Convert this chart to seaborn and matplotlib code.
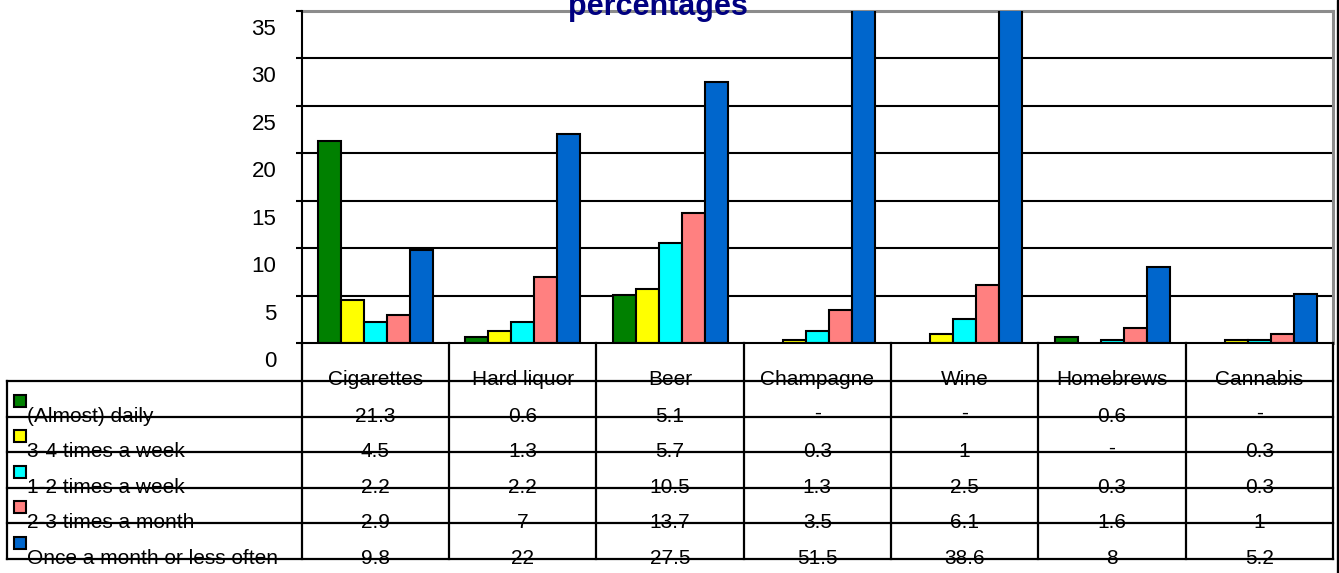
import numpy as np
import pandas as pd
import matplotlib
matplotlib.use("Agg")
import matplotlib.pyplot as plt
import matplotlib.transforms as mtransforms
from matplotlib.lines import Line2D
from matplotlib.patches import Rectangle
import seaborn as sns

categories = ["Cigarettes", "Hard liquor", "Beer", "Champagne", "Wine", "Homebrews", "Cannabis"]
frequencies = ["(Almost) daily", "3-4 times a week", "1-2 times a week",
               "2-3 times a month", "Once a month or less often"]
daily = [21.3, 0.6, 5.1, None, None, 0.6, None]
three_four_week = [4.5, 1.3, 5.7, 0.3, 1, None, 0.3]
one_two_week = [2.2, 2.2, 10.5, 1.3, 2.5, 0.3, 0.3]
two_three_month = [2.9, 7, 13.7, 3.5, 6.1, 1.6, 1]
monthly_or_less = [9.8, 22, 27.5, 51.5, 38.6, 8, 5.2]
yticks = [0, 5, 10, 15, 20, 25, 30, 35]

colors = ["#008000", "#FFFF00", "#00FFFF", "#FF8080", "#0066CC"]
series = [daily, three_four_week, one_two_week, two_three_month, monthly_or_less]

W, H = 1339, 573
sns.set_style("white")
plt.rcParams["font.family"] = ["Liberation Sans", "DejaVu Sans"]
plt.rcParams["text.color"] = "black"
plt.rcParams["ytick.color"] = "black"
plt.rcParams["ytick.labelcolor"] = "black"

# long table for seaborn
rows = []
for freq, vals in zip(frequencies, series):
    for cat, v in zip(categories, vals):
        rows.append({"category": cat, "freq": freq, "value": np.nan if v is None else v})
df = pd.DataFrame(rows)

fig = plt.figure(figsize=(W / 100, H / 100), dpi=100)

# bar chart area
ax = fig.add_axes([302 / W, 1 - 343 / H, 1031 / W, 332 / H])
sns.barplot(data=df.dropna(), x="category", y="value", hue="freq",
            order=categories, hue_order=frequencies, palette=colors,
            saturation=1, width=0.78, gap=0, errorbar=None, edgecolor="black",
            linewidth=1.5, legend=False, ax=ax)
ax.set_xlim(-0.5, len(categories) - 0.5)
ax.set_ylim(0, 35)
ax.set_yticks(yticks)
ax.set_xticks([])
ax.set_xlabel("")
ax.set_ylabel("")
ax.set_axisbelow(True)
for y in yticks[1:-1]:
    ax.axhline(y, color="black", lw=1.5, zorder=0)

for side in ["left", "bottom"]:
    ax.spines[side].set_color("black")
    ax.spines[side].set_linewidth(1.5)
for side in ["top", "right"]:
    ax.spines[side].set_color("#8c8c8c")
    ax.spines[side].set_linewidth(2.2)
ax.spines["top"].set_zorder(0.5)

ax.tick_params(axis="y", direction="out", length=4.5, width=1.5, color="black",
               labelcolor="black", labelsize=16, pad=14, left=True)
# labels in the reference sit below their tick marks
offset = mtransforms.ScaledTranslation(0, -16 / 100, fig.dpi_scale_trans)
for lab in ax.get_yticklabels():
    lab.set_transform(lab.get_transform() + offset)

# data table below the chart
header_h = 38
row_h = (216 - header_h) / len(frequencies)
tab = fig.add_axes([7 / W, 1 - 559 / H, 1326 / W, 216 / H])
tab.set_xlim(-2.5, len(categories) - 0.5)
tab.set_ylim(216, 0)
tab.axis("off")

line_kw = dict(color="black", lw=1.6, solid_capstyle="projecting", zorder=1)
for i in range(len(frequencies) + 1):
    y = header_h + i * row_h
    tab.plot([-2.5, len(categories) - 0.5], [y, y], clip_on=False, **line_kw)
for j in range(len(categories) + 1):
    tab.plot([j - 0.5, j - 0.5], [0, 216], clip_on=False, **line_kw)
tab.plot([-2.5, -2.5], [header_h, 216], clip_on=False, **line_kw)

for j, cat in enumerate(categories):
    tab.text(j, header_h + 4, cat, ha="center", va="baseline", fontsize=15, zorder=3)

px = 1 / 147.3  # one pixel in table x units
for i, (freq, vals, col) in enumerate(zip(frequencies, series, colors)):
    y_line = header_h + (i + 1) * row_h
    tab.add_patch(Rectangle((-2.5 + 7 * px, y_line - 22), 12 * px, 12,
                            facecolor=col, edgecolor="black", lw=1.5, clip_on=False))
    tab.text(-2.5 + 20 * px, y_line + 5, freq, ha="left", va="baseline",
             fontsize=15, zorder=3)
    for j, v in enumerate(vals):
        if v is None:
            tab.text(j, y_line + 2, "-", ha="center", va="baseline", fontsize=15, zorder=3)
        else:
            tab.text(j, y_line + 5, f"{v:g}", ha="center", va="baseline",
                     fontsize=15, zorder=3)

# thick frame line on the right edge
fig.add_artist(Line2D([1337.5 / W, 1337.5 / W], [0, 1], color="black", lw=2.4))

fig.text(658 / W, 1 - 15 / H, "percentages", ha="center", va="baseline",
         fontsize=22, fontweight="bold", color="#000080")

fig.savefig("out.png", dpi=100)
